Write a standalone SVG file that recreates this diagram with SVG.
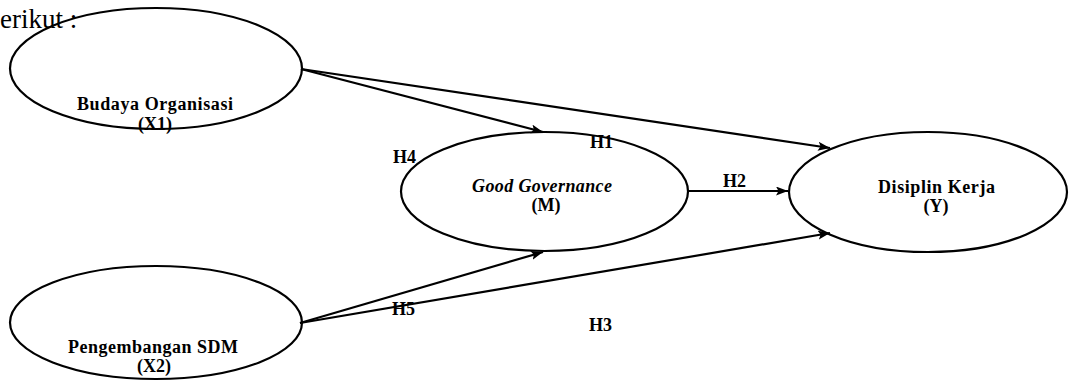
<svg xmlns="http://www.w3.org/2000/svg" width="1073" height="381" viewBox="0 0 1073 381">
<style>
.node ellipse{fill:none;stroke:#000;stroke-width:2.2}
.lbl{font-family:"Liberation Serif","Times New Roman",serif;font-weight:bold;font-size:18px;fill:#000;text-anchor:middle}
.it{font-style:italic}
.h{font-family:"Liberation Serif","Times New Roman",serif;font-weight:bold;font-size:18px;fill:#000}
.edge{stroke:#000;stroke-width:2.2;fill:none;marker-end:url(#arr)}
.intro{font-family:"Liberation Serif","Times New Roman",serif;font-size:27px;fill:#000}
</style>
<defs>
<marker id="arr" markerUnits="userSpaceOnUse" markerWidth="14" markerHeight="10" refX="12" refY="4.5" orient="auto">
<path d="M0,0 L12,4.5 L0,9 L2.5,4.5 Z" fill="#000"/>
</marker>
</defs>
<rect width="1073" height="381" fill="#fff"/>
<text class="intro" x="0" y="28">erikut :</text>
<g id="connectors">
<line class="edge" x1="301" y1="69" x2="543" y2="132"/>
<line class="edge" x1="301" y1="69" x2="830" y2="148"/>
<line class="edge" x1="689" y1="191" x2="788" y2="191"/>
<line class="edge" x1="300" y1="323" x2="543" y2="252"/>
<line class="edge" x1="300" y1="323" x2="830" y2="233"/>
</g>
<g id="X1" class="node">
<ellipse cx="156" cy="68.5" rx="146" ry="60.5"/>
<text class="lbl" x="155" y="109.5" textLength="156" lengthAdjust="spacing">Budaya Organisasi</text>
<text class="lbl" x="155" y="129.5">(X1)</text>
</g>
<g id="X2" class="node">
<ellipse cx="156" cy="322.5" rx="146" ry="56.5"/>
<text class="lbl" x="153" y="353" textLength="170" lengthAdjust="spacing">Pengembangan SDM</text>
<text class="lbl" x="154" y="372">(X2)</text>
</g>
<g id="M" class="node">
<ellipse cx="544.5" cy="191.5" rx="143.5" ry="59.5"/>
<text class="lbl it" x="542" y="192" textLength="140" lengthAdjust="spacing">Good Governance</text>
<text class="lbl" x="546" y="211">(M)</text>
</g>
<g id="Y" class="node">
<ellipse cx="928" cy="192" rx="139" ry="60"/>
<text class="lbl" x="936.5" y="193" textLength="117" lengthAdjust="spacing">Disiplin Kerja</text>
<text class="lbl" x="936" y="212">(Y)</text>
</g>
<g id="hyp">
<text class="h" x="590" y="148">H1</text>
<text class="h" x="723" y="187">H2</text>
<text class="h" x="589" y="331">H3</text>
<text class="h" x="393" y="163">H4</text>
<text class="h" x="392" y="315">H5</text>
</g>
</svg>
